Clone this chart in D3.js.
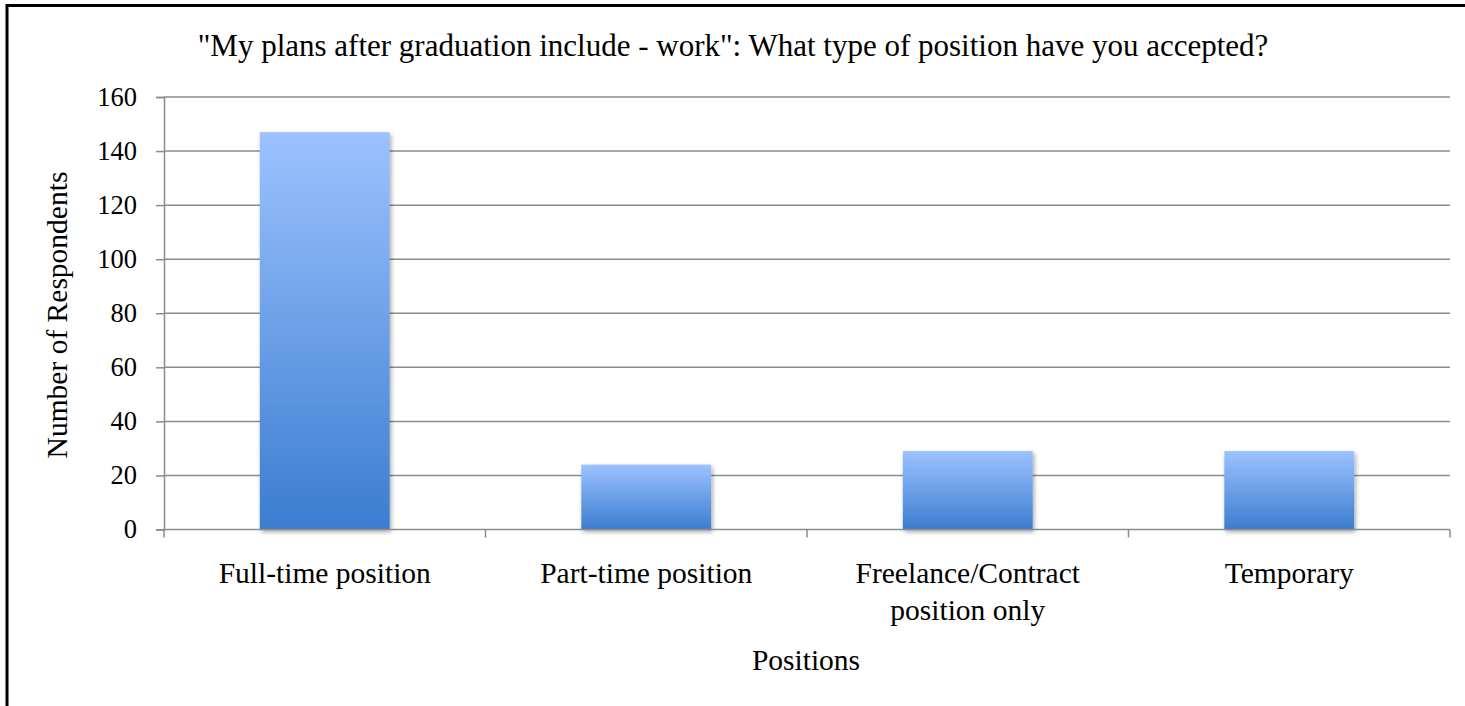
<!DOCTYPE html>
<html>
<head>
<meta charset="utf-8">
<script src="https://cdn.jsdelivr.net/npm/d3@7"></script>
<style>
  html, body { margin: 0; padding: 0; background: #fff; }
  svg { display: block; }
</style>
</head>
<body>
<svg id="chart" width="1465" height="706"></svg>
<script>
const categories = ["Full-time position", "Part-time position", "Freelance/Contract position only", "Temporary"];
const categoryLines = [["Full-time position"], ["Part-time position"], ["Freelance/Contract", "position only"], ["Temporary"]];
const values = [147, 24, 29, 29];
const yTicks = [0, 20, 40, 60, 80, 100, 120, 140, 160];
const titleText = "\"My plans after graduation include - work\": What type of position have you accepted?";
const xTitle = "Positions";
const yTitle = "Number of Respondents";

const FONT = "'Liberation Serif', 'Times New Roman', serif";
const svg = d3.select("#chart");
const W = 1465, H = 706;
const plot = { left: 164, right: 1450, top: 97, bottom: 529.5 };

// frame
svg.append("rect").attr("x", 7).attr("y", 5.5).attr("width", W + 20).attr("height", H + 20)
  .attr("fill", "#fff").attr("stroke", "#000").attr("stroke-width", 3);

const defs = svg.append("defs");
const grad = defs.append("linearGradient").attr("id", "barGrad")
  .attr("x1", 0).attr("y1", 0).attr("x2", 0).attr("y2", 1);
grad.append("stop").attr("offset", "0%").attr("stop-color", "#9cc2ff");
grad.append("stop").attr("offset", "100%").attr("stop-color", "#3b7dcf");
const filt = defs.append("filter").attr("id", "shadow").attr("x", "-10%").attr("y", "-10%").attr("width", "130%").attr("height", "130%");
filt.append("feDropShadow").attr("dx", 1.5).attr("dy", 2.5).attr("stdDeviation", 2)
  .attr("flood-color", "#000").attr("flood-opacity", 0.35);

const x = d3.scaleBand().domain(categories).range([plot.left, plot.right])
  .paddingInner(0.596).paddingOuter(0.298);
const y = d3.scaleLinear().domain([0, 160]).range([plot.bottom, plot.top]);

// gridlines
svg.append("g").selectAll("line").data(yTicks.filter(d => d > 0)).join("line")
  .attr("x1", plot.left).attr("x2", plot.right)
  .attr("y1", d => y(d)).attr("y2", d => y(d))
  .attr("stroke", "#8c8c8c").attr("stroke-width", 1.5);

// y axis
const yAxis = svg.append("g").attr("transform", `translate(${plot.left},0)`)
  .call(d3.axisLeft(y).tickValues(yTicks).tickSize(8).tickPadding(19).tickFormat(d3.format("d")));
yAxis.attr("font-family", FONT).attr("font-size", 26.5);
yAxis.select(".domain").attr("stroke", "#8c8c8c").attr("stroke-width", 1.5);
yAxis.selectAll(".tick line").attr("stroke", "#8c8c8c").attr("stroke-width", 1.5);
yAxis.selectAll(".tick text").attr("fill", "#000");

// bars
svg.append("g").selectAll("rect").data(categories).join("rect")
  .attr("x", d => x(d)).attr("width", x.bandwidth())
  .attr("y", (d, i) => y(values[i])).attr("height", (d, i) => y(0) - y(values[i]))
  .attr("fill", "url(#barGrad)").attr("filter", "url(#shadow)");

// x axis
const xAxisG = svg.append("g").attr("transform", `translate(0,${plot.bottom})`);
xAxisG.append("line").attr("x1", plot.left).attr("x2", plot.right).attr("y1", 0).attr("y2", 0)
  .attr("stroke", "#8c8c8c").attr("stroke-width", 1.5);
const bounds = d3.range(categories.length + 1).map(i => plot.left + i * (plot.right - plot.left) / categories.length);
xAxisG.selectAll("line.tk").data(bounds).join("line").attr("class", "tk")
  .attr("x1", d => d).attr("x2", d => d).attr("y1", 0).attr("y2", 8)
  .attr("stroke", "#8c8c8c").attr("stroke-width", 1.5);
categories.forEach((c, i) => {
  const cx = x(c) + x.bandwidth() / 2;
  const t = svg.append("text").attr("text-anchor", "middle").attr("font-size", 29.5)
    .attr("font-family", FONT).attr("fill", "#000")
    .attr("x", cx).attr("y", 583);
  categoryLines[i].forEach((ln, j) => {
    t.append("tspan").attr("x", cx).attr("dy", j === 0 ? 0 : 37).text(ln);
  });
});

// titles
svg.append("text").attr("x", 733).attr("y", 56).attr("text-anchor", "middle")
  .attr("font-family", FONT).attr("font-size", 31).attr("fill", "#000").text(titleText);
svg.append("text").attr("x", 806).attr("y", 670).attr("text-anchor", "middle")
  .attr("font-family", FONT).attr("font-size", 29.5).attr("fill", "#000").text(xTitle);
svg.append("text").attr("transform", "translate(67,315) rotate(-90)").attr("text-anchor", "middle")
  .attr("font-family", FONT).attr("font-size", 29.5).attr("fill", "#000").text(yTitle);
</script>
</body>
</html>
